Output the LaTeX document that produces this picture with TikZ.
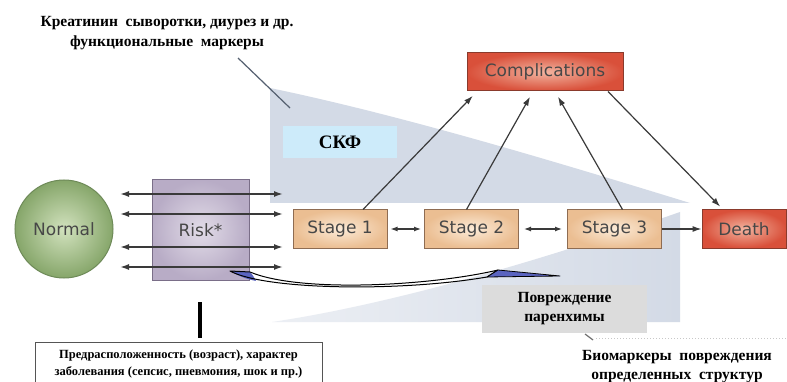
\documentclass[tikz,border=0pt]{standalone}
\usepackage{fontspec}
\setmainfont{Liberation Serif}
\newfontfamily\labfont{DejaVu Sans}
\usetikzlibrary{arrows.meta,shapes.geometric,calc}
\definecolor{wedgec}{HTML}{D3DAE6}
\definecolor{wedgel}{HTML}{ECEFF4}
\definecolor{labc}{HTML}{474747}
\definecolor{linec}{HTML}{3A3A3A}
\definecolor{skfc}{HTML}{CDEBFA}
\definecolor{parc}{HTML}{DCDCDC}
\definecolor{stin}{HTML}{FCEBD8}
\definecolor{stout}{HTML}{EBBE92}
\definecolor{stdraw}{HTML}{8E6C52}
\definecolor{rdin}{HTML}{F2B4A0}
\definecolor{rdout}{HTML}{D9503A}
\definecolor{rddraw}{HTML}{8A3A2C}
\definecolor{grin}{HTML}{D2E2BE}
\definecolor{grout}{HTML}{86A66A}
\definecolor{grdraw}{HTML}{6E8A58}
\definecolor{lvin}{HTML}{E2DCE8}
\definecolor{lvout}{HTML}{B8ACC6}
\definecolor{lvdraw}{HTML}{7A6E88}
\definecolor{ptrc}{HTML}{556070}
\definecolor{swblue}{HTML}{5A64C0}
\definecolor{bpc}{HTML}{707070}
\definecolor{dotc}{HTML}{C8C8C8}
\definecolor{boxc}{HTML}{555555}
\begin{document}
\begin{tikzpicture}[x=1pt,y=-1pt,
  lab/.style={font=\labfont\fontsize{17}{19}\selectfont, text=labc},
  stagebox/.style={lab, rectangle, minimum width=94pt, minimum height=38pt, inner sep=0pt,
    shading=radial, inner color=stin, outer color=stout, draw=stdraw, line width=1pt},
  redbox/.style={lab, rectangle, inner sep=0pt, minimum height=38pt,
    shading=radial, inner color=rdin, outer color=rdout, draw=rddraw, line width=1pt},
  ttl/.style={font=\bfseries\fontsize{15.5}{19.5}\selectfont, align=center, inner sep=0pt},
  note/.style={font=\bfseries\fontsize{12.5}{16.5}\selectfont, align=center, inner sep=0pt},
  conn/.style={draw=linec, line width=1.2pt},
  arr/.style={conn, -{Latex[length=9pt,width=6pt]}},
  darr/.style={conn, {Latex[length=7pt,width=5pt]}-{Latex[length=7pt,width=5pt]}},
  rowarr/.style={conn, line width=1.6pt, {Latex[length=9pt,width=6pt]}-{Latex[length=9pt,width=6pt]}}
]
\useasboundingbox (0,0) rectangle (787,382);
\fill[white] (0,0) rectangle (787,382);

% wedges
\fill[wedgec] (270,88) .. controls (400,115) and (550,160) .. (690,203) -- (270,203) -- cycle;
\shade[left color=wedgel, right color=wedgec] (272,322) .. controls (420,300) and (600,240) .. (680,212) -- (680,322) -- cycle;

% title and pointer
\node[ttl] (title) at (167,33) {Креатинин\ \ сыворотки, диурез и др.\\функциональные\ \ маркеры};
\coordinate (tp1) at (238,58);
\coordinate (tp2) at (290,108);
\draw[draw=ptrc, line width=1.2pt] (tp1) -- (tp2);

% info boxes
\node[fill=skfc, minimum width=114pt, minimum height=32pt, inner sep=0pt, font=\bfseries\fontsize{19}{21}\selectfont] (skf) at (340,142) {СКФ};
\node[fill=parc, minimum width=165pt, minimum height=48pt, inner sep=0pt, font=\bfseries\fontsize{15.5}{19}\selectfont, align=center] (par) at (564.5,309) {Повреждение\\паренхимы};

% main nodes
\node[lab, circle, minimum size=98pt, inner sep=0pt, shading=radial, inner color=grin, outer color=grout, draw=grdraw, line width=1pt] (normal) at (64,229) {Normal};
\node[lab, rectangle, minimum width=97pt, minimum height=100pt, inner sep=0pt, shading=radial, inner color=lvin, outer color=lvout, draw=lvdraw, line width=1pt] (risk) at (200.5,230) {Risk*};
\node[stagebox] (s1) at (340,229) {Stage 1};
\node[stagebox] (s2) at (471.5,229) {Stage 2};
\node[stagebox] (s3) at (614.5,229) {Stage 3};
\node[redbox, minimum width=84pt] (death) at (744,229) {Death};
\node[redbox, minimum width=156pt] (comp) at (545,72) {Complications};

% row arrows through Risk
\foreach \yy/\nm in {194/a,214/b,247/c,267/d}{
  \coordinate (L\nm) at (120,\yy);
  \coordinate (R\nm) at (283,\yy);
  \draw[rowarr] (L\nm) -- (R\nm);
}

% stage arrows
\draw[darr] ([xshift=3pt]s1.east) -- ([xshift=-3pt]s2.west);
\draw[darr] ([xshift=5pt]s2.east) -- ([xshift=-5pt]s3.west);
\draw[arr] (s3.east) -- (death.west);

% to complications
\draw[arr, shorten >=6pt] ([xshift=23pt]s1.north) -- ([xshift=-68pt]comp.south);
\draw[arr, shorten >=6pt] ([xshift=-5pt]s2.north) -- ([xshift=-12pt]comp.south);
\draw[arr, shorten >=6pt] ([xshift=8pt]s3.north) -- ([xshift=10pt]comp.south);
\draw[arr, shorten >=4pt] ([xshift=63pt]comp.south) -- ([xshift=-21pt]death.north);

% curved swoosh arrow
\fill[swblue] (231,271) .. controls (240,277) and (247,279) .. (256,281) .. controls (254,277) and (252,274) .. (250,272) -- cycle;
\draw[black, line width=1pt, line join=round]
  (230,271) .. controls (265,290) and (400,292) .. (487,277)
  -- (498,270)
  .. controls (430,286) and (300,293) .. (250,272) -- cycle;
\filldraw[fill=swblue, draw=black, line width=0.8pt, line join=round] (487,277) -- (498,270) -- (560,276) -- cycle;

% bottom pointer and texts
\coordinate (bp1) at (585,334);
\coordinate (bp2) at (593,340);
\draw[draw=bpc, line width=1.2pt] (bp1) -- (bp2);
\coordinate (dl1) at (596,338);
\coordinate (dl2) at (787,338);
\draw[draw=dotc, line width=1pt, dotted] (dl1) -- (dl2);
\node[ttl] (bio) at (677,366.5) {Биомаркеры\ \ повреждения\\определенных\ \ структур};

\node[note, draw=boxc, line width=0.8pt, minimum width=287pt, minimum height=44pt] (pred) at (178.5,364) {Предрасположенность (возраст), характер\\заболевания (сепсис, пневмония, шок и пр.)};
\coordinate (bar) at (200,302);
\draw[line width=4pt, shorten >=4pt] (bar) -- (bar |- pred.north);
\end{tikzpicture}
\end{document}
